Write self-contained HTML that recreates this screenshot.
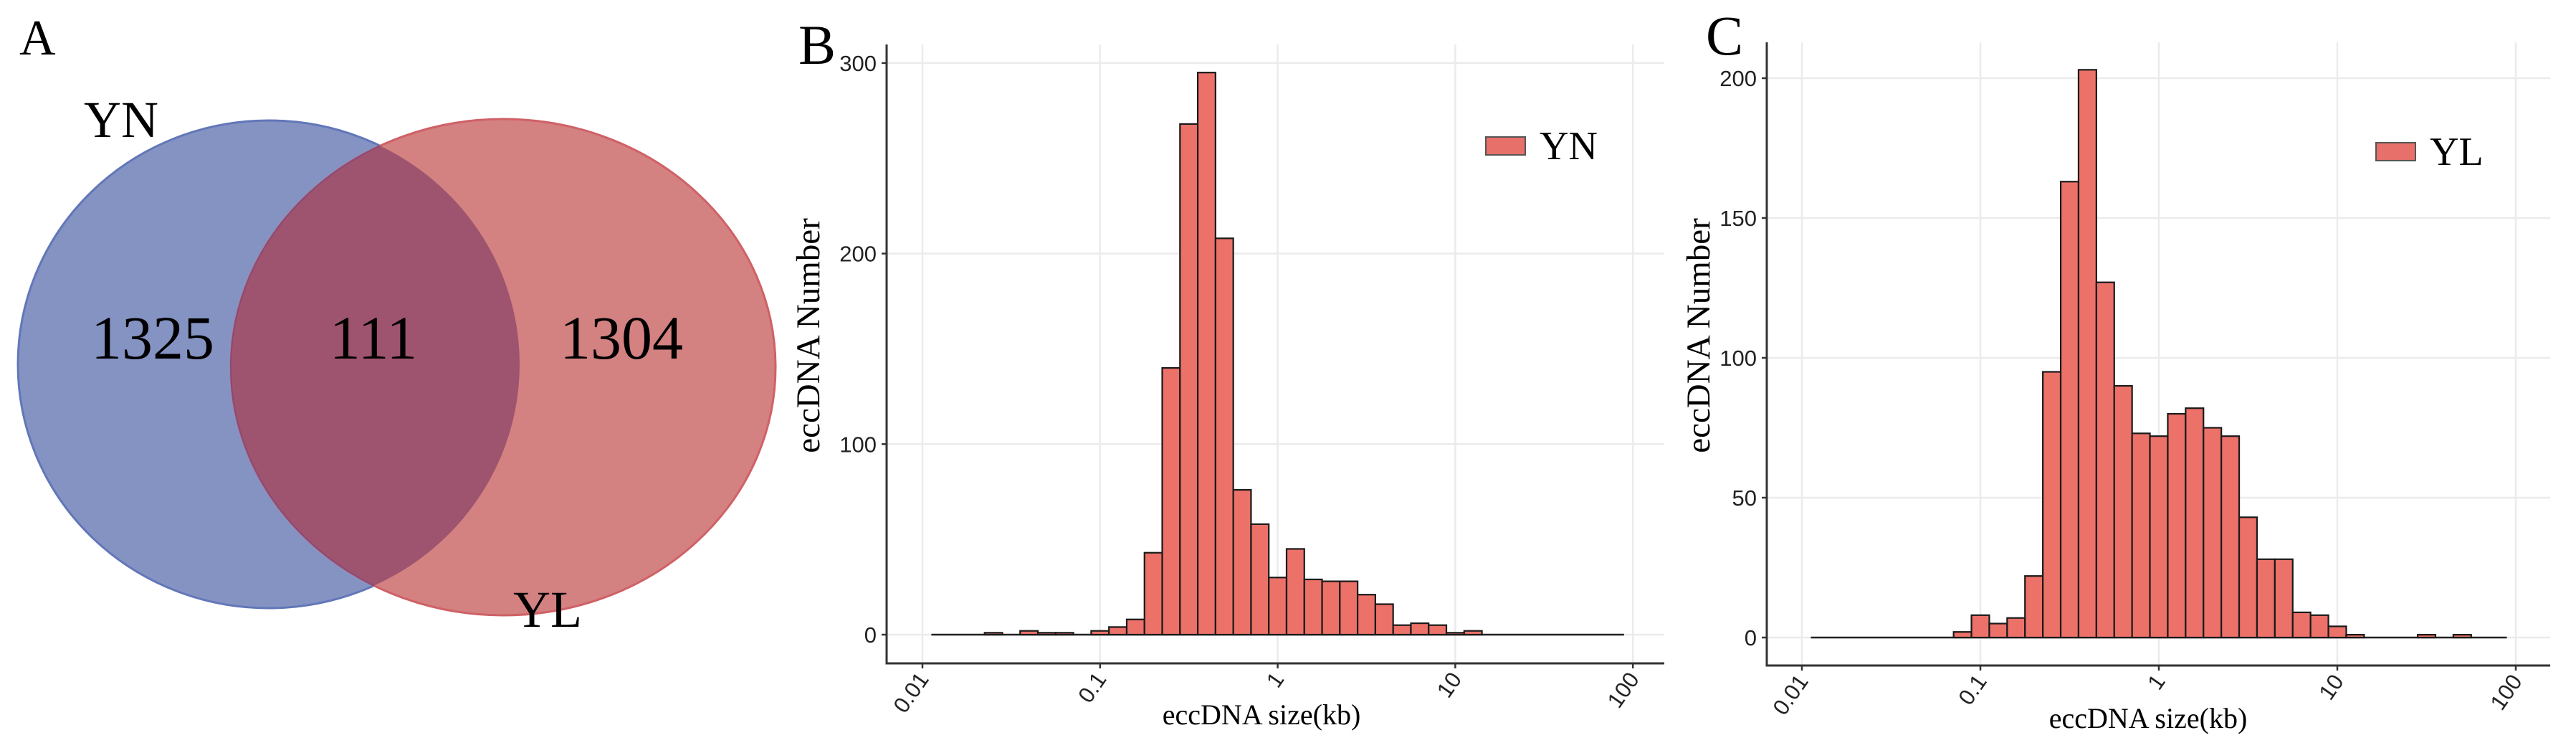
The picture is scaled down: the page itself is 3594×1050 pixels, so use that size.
<!DOCTYPE html>
<html><head><meta charset="utf-8"><style>
html,body{margin:0;padding:0;background:#fff;}
svg{display:block;}
.serif{font-family:"Liberation Serif",serif;}
.sans{font-family:"Liberation Sans",sans-serif;}
</style></head><body>
<svg id="fig" width="3594" height="1050" viewBox="0 0 3594 1050" xmlns="http://www.w3.org/2000/svg">
  <defs>
    <clipPath id="blueClip"><ellipse cx="375" cy="508" rx="350" ry="340"/></clipPath>
  </defs>
  <g>
    <text class="serif" x="27" y="76" font-size="70">A</text>
    <ellipse cx="375" cy="508" rx="350" ry="340" fill="#8593c3" stroke="#6277b8" stroke-width="3"/>
    <ellipse cx="702" cy="512" rx="380" ry="346" fill="#d48182" stroke="#cf6166" stroke-width="3"/>
    <ellipse cx="702" cy="512" rx="380" ry="346" fill="#9e546e" stroke="#8a4a78" stroke-width="2" clip-path="url(#blueClip)"/>
    <text class="serif" x="117" y="191" font-size="72">YN</text>
    <text class="serif" x="716" y="874" font-size="72">YL</text>
    <text class="serif" x="213" y="500" font-size="86" text-anchor="middle">1325</text>
    <text class="serif" x="521" y="500" font-size="86" text-anchor="middle">111</text>
    <text class="serif" x="867" y="500" font-size="86" text-anchor="middle">1304</text>
  </g>
  <g id="panelB"></g>
  <g id="panelC"></g>
</svg>
<script>
// shared bin definition: log10 bins of width 0.1 starting at -1.95
const binStart = -1.95;
const binWidth = 0.1;
const xTickLabels = ["0.01", "0.1", "1", "10", "100"];
const xTickLogs = [-2, -1, 0, 1, 2];
// panel B (YN) counts per bin
const countsYN = [0,0,0,1,0,2,1,1,0,2,4,8,43,140,268,295,208,76,58,30,45,29,28,28,21,16,5,6,5,1,2,0,0,0,0,0,0,0,0];
const yTicksYN = [0, 100, 200, 300];
// panel C (YL) counts per bin
const countsYL = [0,0,0,0,0,0,0,0,2,8,5,7,22,95,163,203,127,90,73,72,80,82,75,72,43,28,28,9,8,4,1,0,0,0,1,0,1,0,0];
const yTicksYL = [0, 50, 100, 150, 200];

const NS = "http://www.w3.org/2000/svg";
function mk(parent, tag, attrs, text) {
  const e = document.createElementNS(NS, tag);
  for (const k in attrs) e.setAttribute(k, attrs[k]);
  if (text !== undefined) e.textContent = text;
  parent.appendChild(e);
  return e;
}

function drawPanel(g, cfg, counts, yTicks, legendText, panelLetter) {
  const xs = lv => cfg.x0 + (lv + 2) * cfg.dec;
  const ys = v => cfg.y0 - v * cfg.unit;
  const pl = mk(g, "text", {x: cfg.letterX, y: cfg.letterY, "font-size": 78, class: "serif"}, panelLetter);
  
  
  yTicks.forEach(t => {
    const l = mk(g, "line", {x1: cfg.axX, x2: cfg.right, y1: ys(t), y2: ys(t), stroke: "#ebebeb", "stroke-width": 2.5});
    
    
  });
  xTickLogs.forEach(lv => {
    const l = mk(g, "line", {x1: xs(lv), x2: xs(lv), y1: cfg.top, y2: cfg.axY, stroke: "#ebebeb", "stroke-width": 2.5});
    
    
  });
  const nb = counts.length;
  const bl = mk(g, "line", {x1: xs(binStart), x2: xs(binStart + nb * binWidth), y1: ys(0), y2: ys(0), stroke: "#222", "stroke-width": 2.5});
  
  
  counts.forEach((c, k) => {
    if (c <= 0) return;
    const xl = xs(binStart + k * binWidth), xr = xs(binStart + (k + 1) * binWidth);
    const r = mk(g, "rect", {x: xl, y: ys(c), width: xr - xl, height: ys(0) - ys(c), fill: "#ec7169", stroke: "#1a1a1a", "stroke-width": 2.2});
    
    
  });
  const ax = mk(g, "line", {x1: cfg.axX, x2: cfg.axX, y1: cfg.top, y2: cfg.axY + 1.5, stroke: "#333", "stroke-width": 3});
  
  
  const ax2 = mk(g, "line", {x1: cfg.axX - 1.5, x2: cfg.right, y1: cfg.axY, y2: cfg.axY, stroke: "#333", "stroke-width": 3});
  
  
  yTicks.forEach(t => {
    const tk = mk(g, "line", {x1: cfg.axX - 7, x2: cfg.axX, y1: ys(t), y2: ys(t), stroke: "#333", "stroke-width": 2.5});
    
    
    const tl = mk(g, "text", {x: cfg.axX - 14, y: ys(t) + 11, "font-size": 31, "text-anchor": "end", class: "sans", fill: "#222"}, String(t));
    
    
  });
  xTickLogs.forEach((lv, i) => {
    const x = xs(lv);
    const tk = mk(g, "line", {x1: x, x2: x, y1: cfg.axY, y2: cfg.axY + 7, stroke: "#333", "stroke-width": 2.5});
    
    
    const tl = mk(g, "text", {x: 0, y: 0, "font-size": 31, "text-anchor": "end", class: "sans", fill: "#222",
      transform: "translate(" + (x + 10) + "," + (cfg.axY + 22) + ") rotate(-55)"}, xTickLabels[i]);
    
    
  });
  const xt = mk(g, "text", {x: cfg.xTitleX, y: cfg.xTitleY, "font-size": 40, "text-anchor": "middle", class: "serif"}, "eccDNA size(kb)");
  
  
  const yt = mk(g, "text", {x: 0, y: 0, "font-size": 47, "text-anchor": "middle", class: "serif",
    transform: "translate(" + cfg.yTitleX + "," + cfg.yTitleY + ") rotate(-90)"}, "eccDNA Number");
  
  
  const lk = mk(g, "rect", {x: cfg.legX, y: cfg.legY, width: 55, height: 25, fill: "#e8706a", stroke: "#555", "stroke-width": 2});
  
  
  const lt = mk(g, "text", {x: cfg.legX + 75, y: cfg.legY + 31, "font-size": 56, class: "serif"}, legendText);
  
  
}

drawPanel(document.getElementById("panelB"),
  {x0: 1287, dec: 247.8, y0: 885, unit: 2.657, axX: 1237, axY: 925, top: 62, right: 2322,
   letterX: 1114, letterY: 89, xTitleX: 1760, xTitleY: 1010, yTitleX: 1143, yTitleY: 468, legX: 2073, legY: 191},
  countsYN, yTicksYN, "YN", "B");
drawPanel(document.getElementById("panelC"),
  {x0: 2514, dec: 249, y0: 889, unit: 3.9, axX: 2465, axY: 928, top: 59, right: 3558,
   letterX: 2380, letterY: 76, xTitleX: 2997, xTitleY: 1015, yTitleX: 2385, yTitleY: 468, legX: 3315, legY: 199},
  countsYL, yTicksYL, "YL", "C");
</script>
</body></html>
